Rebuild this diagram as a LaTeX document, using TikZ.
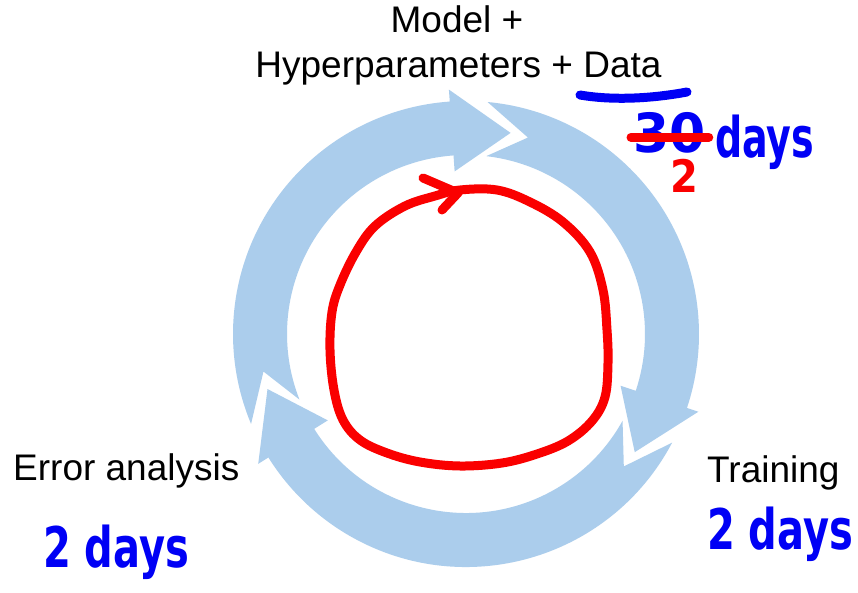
\documentclass[tikz,border=0pt]{standalone}
\usepackage{fontspec}
\usepackage{graphicx}
\setmainfont{Liberation Sans}
\newfontfamily\handfont{DejaVu Sans}
\definecolor{ringblue}{RGB}{171,205,236}
\definecolor{inkblue}{RGB}{0,0,245}
\definecolor{inkred}{RGB}{250,0,0}
% #1 tail outer angle, #2 tail inner angle, #3 notch angle, #4 head base angle, #5 tip angle
\newcommand\ringarrow[5]{%
  \fill[ringblue] (#1:233) arc[start angle=#1, end angle=#4, radius=233]
    -- (#4:245) -- (#5:206) -- (#4:163) -- (#4:179)
    arc[start angle=#4, end angle=#2, radius=179] -- (#3:206) -- cycle;}
\tikzset{
  lbl/.style={font=\fontsize{37}{44}\selectfont, text=black, inner sep=0pt},
  hand/.style={font=\handfont\bfseries\fontsize{40}{48}\selectfont, text=inkblue, inner sep=0pt},
  redhand/.style={font=\handfont\bfseries\fontsize{40}{48}\selectfont, text=inkred, inner sep=0pt},
  redstroke/.style={draw=inkred, line width=9pt, line cap=round, line join=round},
  bluestroke/.style={draw=inkblue, line width=9pt, line cap=round},
}
\begin{document}
\begin{tikzpicture}[x=1pt, y=-1pt]
\fill[white] (0,0) rectangle (858,593);
\useasboundingbox (0,0) rectangle (858,593);
% cycle ring
\begin{scope}[shift={(466,334)}, y=1pt]
  \ringarrow{202.7}{201.5}{190.5}{94}{77.5}
  \ringarrow{84.7}{83.5}{72.5}{-18.5}{-35}
  \ringarrow{-27.8}{-29}{-40}{-148}{-164.5}
\end{scope}
% red hand-drawn loop
\draw[redstroke] plot[smooth cycle, tension=0.6] coordinates {
  (460,190) (497,190) (530,202) (563,222) (590,252) (603,290) (607,330)
  (608,363) (605,397) (592,421) (568,441) (537,454) (502,463) (460,466)
  (420,462) (387,453) (360,440) (343,420) (334,390) (330,350) (332,312)
  (340,285) (356,252) (375,226) (405,206) (435,196)};
\coordinate (barbA) at (423,178);
\coordinate (barbTip) at (458,193);
\coordinate (barbB) at (442,210);
\draw[redstroke] (barbA) -- (barbTip) -- (barbB);
% labels
\node[lbl, anchor=base] (model) at (457,33) {Model +};
\node[lbl, anchor=base] (hyper) at (458.5,78) {Hyperparameters + Data};
\node[lbl, anchor=base west] (error) at (13,480) {Error analysis};
\node[lbl, anchor=base west] (train) at (707,482) {Training};
% handwriting
\coordinate (ulA) at (580,95);
\coordinate (ulB) at (687,92);
\draw[bluestroke] (ulA) .. controls (615,101) and (655,98) .. (ulB);
\node[hand, anchor=base west] (thirty) at (633,153) {\scalebox{1.3}[1.35]{30}};
\node[hand, anchor=base west] (daysT) at (715,158) {\scalebox{0.95}[1.4]{days}};
\draw[redstroke] ([xshift=-2pt,yshift=-4pt]thirty.west) -- ([xshift=3pt,yshift=-4pt]thirty.east);
\node[redhand, anchor=base west] (twoT) at (670,193) {\scalebox{1}[1.12]{2}};
\node[hand, anchor=base west] (twoL) at (43,567) {\scalebox{1}[1.4]{2 days}};
\node[hand, anchor=base west] (twoR) at (707,549) {\scalebox{1}[1.4]{2 days}};
\end{tikzpicture}
\end{document}
